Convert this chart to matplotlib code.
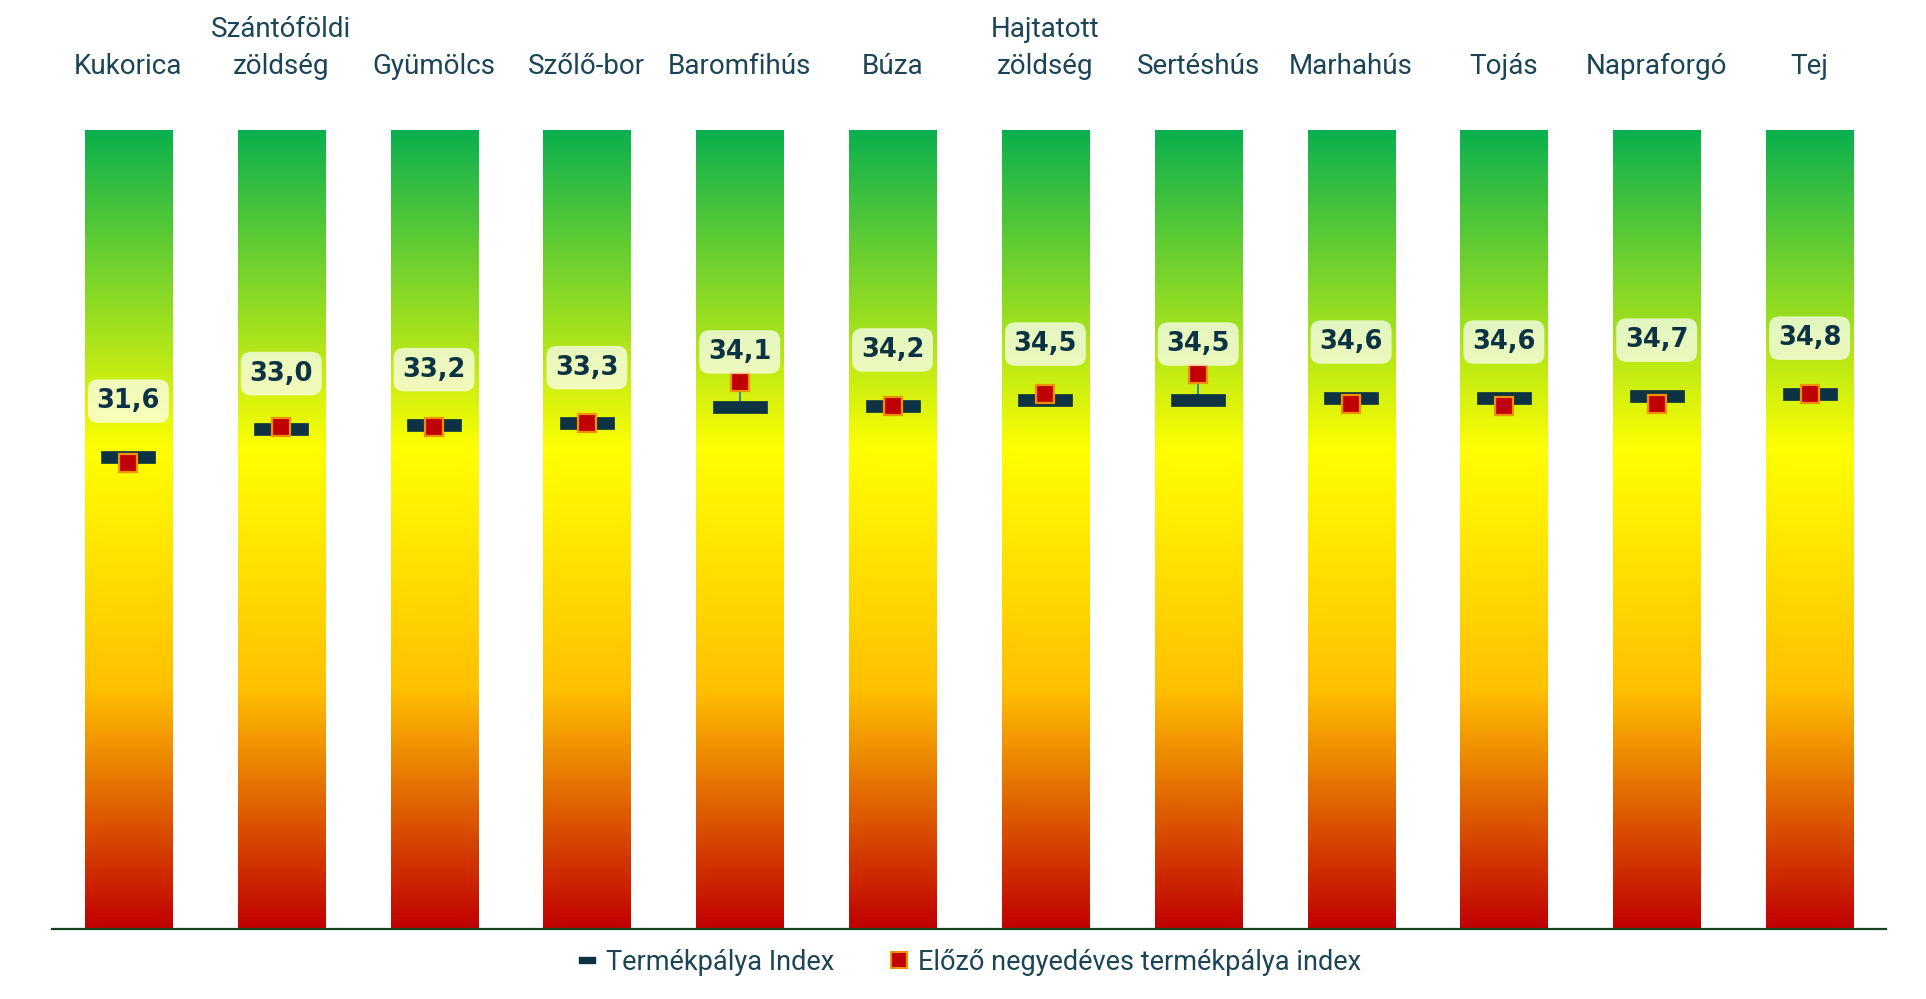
import numpy as np
import matplotlib
matplotlib.use("Agg")
import matplotlib.pyplot as plt
from matplotlib.colors import LinearSegmentedColormap
from matplotlib.path import Path
from matplotlib.lines import Line2D

# data
categories = ["Kukorica", "Szántóföldi\nzöldség", "Gyümölcs", "Szőlő-bor", "Baromfihús", "Búza",
              "Hajtatott\nzöldség", "Sertéshús", "Marhahús", "Tojás", "Napraforgó", "Tej"]
index_now = [31.6, 33.0, 33.2, 33.3, 34.1, 34.2, 34.5, 34.5, 34.6, 34.6, 34.7, 34.8]
index_prev = [31.3, 33.1, 33.1, 33.3, 35.4, 34.2, 34.8, 35.8, 34.3, 34.2, 34.3, 34.8]
value_labels = ["31,6", "33,0", "33,2", "33,3", "34,1", "34,2", "34,5", "34,5", "34,6", "34,6", "34,7", "34,8"]

# background scale of the gradient bars
scale_min = 7.6
scale_max = 48.2

navy = "#0D3243"
label_col = "#1B4457"

fig = plt.figure(figsize=(19.26, 9.99), dpi=100)
ax = fig.add_axes([52 / 1926, 70 / 999, 1834 / 1926, 799 / 999])

x = np.arange(len(categories))
ax.set_xlim(-0.5, len(categories) - 0.5)
ax.set_ylim(scale_min, scale_max)

# gradient bars: red -> orange -> yellow -> green
cmap = LinearSegmentedColormap.from_list(
    "traffic", [(0.0, "#C00000"), (0.30, "#FFC000"), (0.60, "#FFFF00"), (1.0, "#0BB04E")])
grad = np.linspace(0, 1, 256).reshape(-1, 1)
bars = ax.bar(x, scale_max - scale_min, bottom=scale_min, width=0.57, color="none", zorder=1)
for b in bars:
    im = ax.imshow(grad, cmap=cmap, origin="lower", aspect="auto",
                   extent=[-0.5, len(categories) - 0.5, scale_min, scale_max], zorder=1)
    im.set_clip_path(b)

# thin line joining the two index values
ax.vlines(x, index_now, index_prev, color="#1E84AE", lw=1.3, zorder=3)

rect = Path([(-1, -0.215), (1, -0.215), (1, 0.215), (-1, 0.215), (-1, -0.215)],
            [Path.MOVETO, Path.LINETO, Path.LINETO, Path.LINETO, Path.CLOSEPOLY])
ax.plot(x, index_now, ls="none", marker=rect, ms=39, color=navy, mec=navy, mew=0.5, zorder=4)
ax.plot(x, index_prev, ls="none", marker="s", ms=13, color="#C00000", mec="#F29100", mew=1.6, zorder=5)

for xi, v, lab in zip(x, index_now, value_labels):
    ax.annotate(lab, xy=(xi, v), xytext=(0, 40), textcoords="offset points",
                ha="center", va="center", fontsize=18.5, fontweight="bold", color=navy,
                family="DejaVu Sans", zorder=6,
                bbox=dict(boxstyle="round,pad=0.34,rounding_size=0.4", fc="white",
                          ec="none", alpha=0.72))

for xi, cat in zip(x, categories):
    ax.annotate(cat, xy=(xi, 1), xycoords=("data", "axes fraction"), xytext=(0, 36),
                textcoords="offset points", ha="center", va="bottom", fontsize=20,
                family="Roboto", color=label_col, linespacing=1.5)

for s in ["top", "left", "right"]:
    ax.spines[s].set_visible(False)
ax.spines["bottom"].set_color("#16421F")
ax.spines["bottom"].set_linewidth(1.6)
ax.spines["bottom"].set_zorder(7)
ax.set_xticks([])
ax.set_yticks([])

leg_rect = Path([(-1, -0.38), (1, -0.38), (1, 0.38), (-1, 0.38), (-1, -0.38)],
                [Path.MOVETO, Path.LINETO, Path.LINETO, Path.LINETO, Path.CLOSEPOLY])
handles = [
    Line2D([], [], ls="none", marker=leg_rect, ms=12, color=navy, label="Termékpálya Index"),
    Line2D([], [], ls="none", marker="s", ms=11, color="#C00000", mec="#F29100", mew=1.5,
           label="Előző negyedéves termékpálya index"),
]
leg = fig.legend(handles=handles, loc="center", bbox_to_anchor=(0.503, 0.037), ncol=2,
                 frameon=False, handlelength=0.8, handletextpad=0.3, columnspacing=2.0,
                 prop={"family": "Roboto", "size": 19.5})
for t in leg.get_texts():
    t.set_color(label_col)

fig.savefig("out.png", dpi=100)
